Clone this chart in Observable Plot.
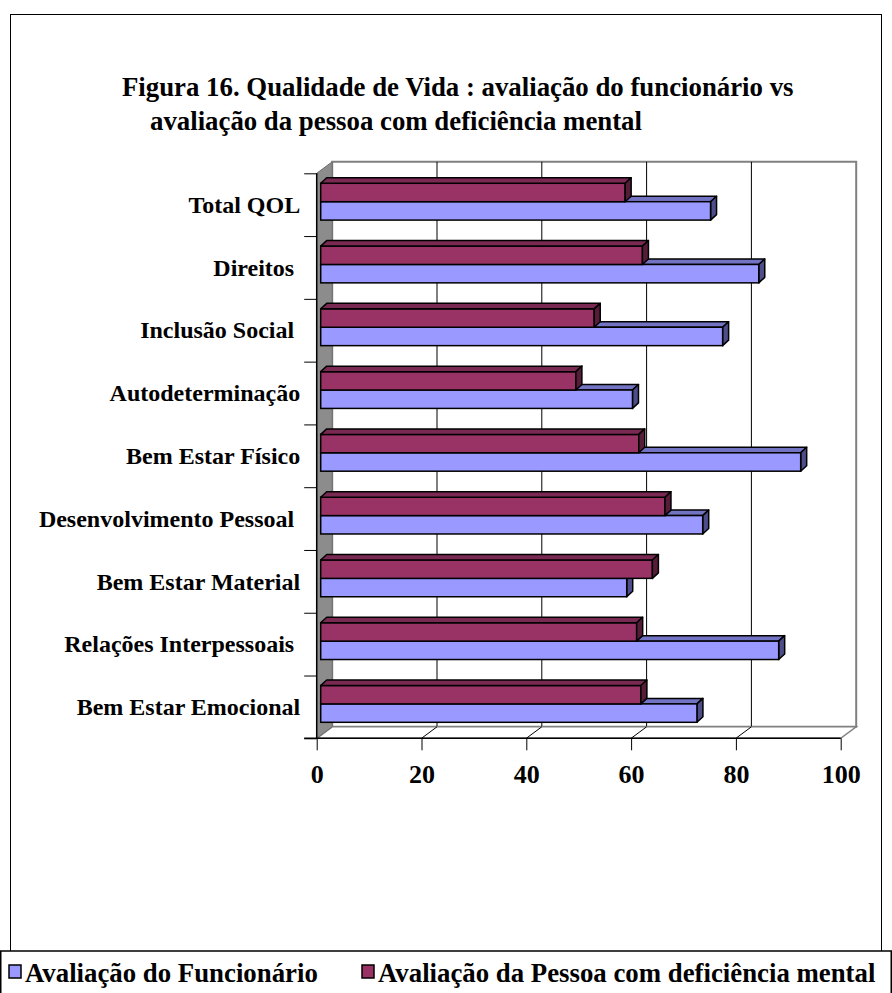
<!DOCTYPE html>
<html>
<head>
<meta charset="utf-8">
<script src="https://cdn.jsdelivr.net/npm/d3@7"></script>
<script src="https://cdn.jsdelivr.net/npm/@observablehq/plot@0.6"></script>
<style>
  body { margin: 0; background: #fff; }
  #chart { position: relative; width: 892px; height: 993px; overflow: hidden; }
  #chart svg { position: absolute; left: 0; top: 0; }
</style>
</head>
<body>
<div id="chart"></div>
<script>
// Categories listed bottom to top (index 0 sits on the floor of the chart)
const categories = [
  "Bem Estar Emocional",
  "Relações Interpessoais ",
  "Bem Estar Material",
  "Desenvolvimento Pessoal ",
  "Bem Estar Físico",
  "Autodeterminação",
  "Inclusão Social ",
  "Direitos ",
  "Total QOL"
];
const funcionario = [71.8, 87.4, 58.4, 72.9, 91.6, 59.5, 76.7, 83.6, 74.4];
const pessoa      = [61.1, 60.3, 63.3, 65.7, 60.7, 48.7, 52.2, 61.4, 58.1];
const seriesNames = ["Avaliação do Funcionário", "Avaliação da Pessoa com deficiência mental"];
const xTicks = [0, 20, 40, 60, 80, 100];
const titleLines = [
  "Figura 16. Qualidade de Vida : avaliação do funcionário vs",
  "avaliação da pessoa com deficiência mental"
];

// Styling of the pseudo-3D look
const FONT = "'Liberation Serif', 'Times New Roman', serif";
const palette = {
  [seriesNames[0]]: {front: "#9999FF", top: "#7373C4", side: "#4D4D8A"},
  [seriesNames[1]]: {front: "#993366", top: "#7A2952", side: "#561D3A"}
};
const WALL_DX = 15.5, WALL_DY = -11.5;   // depth of the box
const BAR_DX = 4, BAR_DY = -3;           // bars sit slightly behind the front plane
const BAR_DEPTH_X = 6, BAR_DEPTH_Y = -5.5;
const GAP = 0.207;                       // empty share of a category band, above and below the pair

const rows = categories.flatMap((cat, i) => [
  {cat, series: seriesNames[0], value: funcionario[i], lo: i + GAP, hi: i + 0.5},
  {cat, series: seriesNames[1], value: pessoa[i], lo: i + 0.5, hi: i + 1 - GAP}
]);

const poly = (pts) => pts.map(p => p.join(",")).join(" ");

// Back wall, left side wall, floor, grid and axis lines
function box(index, {x, y}) {
  const g = d3.create("svg:g");
  const x0 = x(0), x1 = x(100), yT = y(categories.length), yB = y(0);
  g.append("polygon")
    .attr("points", poly([[x0 + WALL_DX, yT + WALL_DY], [x1 + WALL_DX, yT + WALL_DY], [x1 + WALL_DX, yB + WALL_DY], [x0 + WALL_DX, yB + WALL_DY]]))
    .attr("fill", "#fff").attr("stroke", "#808080").attr("stroke-width", 2);
  for (const t of xTicks.slice(1, -1)) {
    g.append("line")
      .attr("x1", x(t) + WALL_DX).attr("x2", x(t) + WALL_DX)
      .attr("y1", yT + WALL_DY).attr("y2", yB + WALL_DY)
      .attr("stroke", "#000").attr("stroke-width", 1);
  }
  // floor
  g.append("polygon")
    .attr("points", poly([[x0, yB], [x1, yB], [x1 + WALL_DX, yB + WALL_DY], [x0 + WALL_DX, yB + WALL_DY]]))
    .attr("fill", "#fff").attr("stroke", "#808080").attr("stroke-width", 1.5);
  for (const t of xTicks.slice(1, -1)) {
    g.append("line")
      .attr("x1", x(t)).attr("y1", yB)
      .attr("x2", x(t) + WALL_DX).attr("y2", yB + WALL_DY)
      .attr("stroke", "#000").attr("stroke-width", 1);
  }
  // side wall
  g.append("polygon")
    .attr("points", poly([[x0, yT], [x0 + WALL_DX, yT + WALL_DY], [x0 + WALL_DX, yB + WALL_DY], [x0, yB]]))
    .attr("fill", "#8C8C8C").attr("stroke", "#6E6E6E").attr("stroke-width", 1);
  // axis lines
  g.append("line").attr("x1", x0).attr("x2", x0).attr("y1", yT).attr("y2", yB)
    .attr("stroke", "#000").attr("stroke-width", 1.5);
  g.append("line").attr("x1", x0 - 12.5).attr("x2", x1).attr("y1", yB).attr("y2", yB)
    .attr("stroke", "#000").attr("stroke-width", 1.5);
  return g.node();
}

// Top and end faces of the bars of one series
function faces(series) {
  return (index, {x, y}) => {
    const g = d3.create("svg:g");
    const c = palette[series];
    for (const r of rows.filter(d => d.series === series)) {
      const xa = x(0) + BAR_DX, xb = x(r.value) + BAR_DX;
      const yt = y(r.hi) + BAR_DY, yb = y(r.lo) + BAR_DY;
      g.append("polygon")
        .attr("points", poly([[xa, yt], [xb, yt], [xb + BAR_DEPTH_X, yt + BAR_DEPTH_Y], [xa + BAR_DEPTH_X, yt + BAR_DEPTH_Y]]))
        .attr("fill", c.top).attr("stroke", "#000").attr("stroke-width", 1.5).attr("stroke-linejoin", "round");
      g.append("polygon")
        .attr("points", poly([[xb, yt], [xb + BAR_DEPTH_X, yt + BAR_DEPTH_Y], [xb + BAR_DEPTH_X, yb + BAR_DEPTH_Y], [xb, yb]]))
        .attr("fill", c.side).attr("stroke", "#000").attr("stroke-width", 1.5).attr("stroke-linejoin", "round");
    }
    return g.node();
  };
}

// Title and legend, drawn in the same SVG
function annotations() {
  const g = d3.create("svg:g")
    .attr("font-family", FONT).attr("font-weight", "bold").attr("fill", "#000")
    .attr("text-anchor", "start");
  g.append("text").attr("x", 122).attr("y", 95.5).attr("font-size", 26.8).text(titleLines[0]);
  g.append("text").attr("x", 150).attr("y", 130).attr("font-size", 26.8).text(titleLines[1]);
  // legend box
  g.append("rect").attr("x", 0.75).attr("y", 951).attr("width", 890.5).attr("height", 45)
    .attr("fill", "#fff").attr("stroke", "#000").attr("stroke-width", 1.5);
  const items = [{x: 9, name: seriesNames[0]}, {x: 362, name: seriesNames[1]}];
  for (const it of items) {
    g.append("rect").attr("x", it.x).attr("y", 965).attr("width", 12).attr("height", 13)
      .attr("fill", palette[it.name].front).attr("stroke", "#000").attr("stroke-width", 1.5);
    g.append("text").attr("x", it.x + 16).attr("y", 982).attr("font-size", 26.8).text(it.name);
  }
  return g.node();
}

const plot = Plot.plot({
  width: 892,
  height: 993,
  marginLeft: 316.7,
  marginRight: 51.3,
  marginTop: 173.3,
  marginBottom: 254.7,
  style: {fontFamily: FONT, fontWeight: "bold", color: "#000", background: "transparent", overflow: "visible"},
  x: {domain: [0, 100]},
  y: {domain: [0, categories.length]},
  marks: [
    // outer chart border
    () => d3.create("svg:rect").attr("x", 10.5).attr("y", 14.5).attr("width", 871).attr("height", 945)
      .attr("fill", "none").attr("stroke", "#000").attr("stroke-width", 1).node(),
    box,
    faces(seriesNames[0]),
    Plot.rectX(rows, {
      x1: 0, x2: "value", y1: "lo", y2: "hi",
      fill: d => palette[d.series].front,
      stroke: "#000", strokeWidth: 1.5,
      dx: BAR_DX, dy: BAR_DY
    }),
    faces(seriesNames[1]),
    Plot.axisY({ticks: d3.range(0, categories.length + 1), tickSize: 12.5, tickFormat: () => "", stroke: "#000"}),
    Plot.axisY({
      ticks: categories.map((_, i) => i + 0.5), tickSize: 0, tickPadding: 17,
      tickFormat: v => categories[Math.floor(v)].replace(/ $/, "\u00a0"),
      fontSize: 24, fontWeight: "bold", fill: "#000"
    }),
    Plot.axisX({ticks: xTicks, tickSize: 12, tickPadding: 14, fontSize: 26, fontWeight: "bold", fill: "#000", stroke: "#000"}),
    annotations
  ]
});

document.getElementById("chart").appendChild(plot);
</script>
</body>
</html>
